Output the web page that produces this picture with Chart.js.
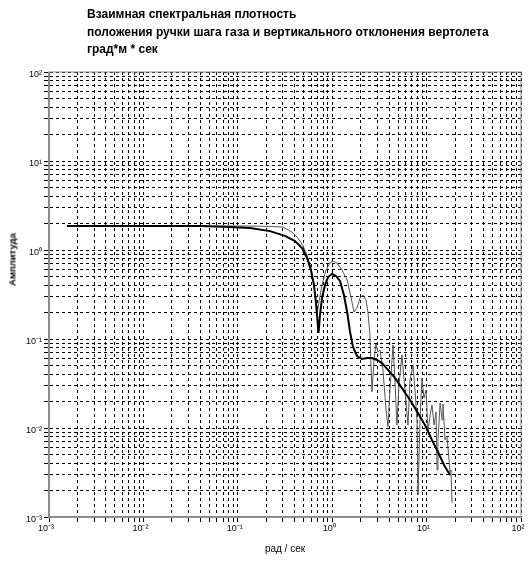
<!DOCTYPE html>
<html lang="ru">
<head>
<meta charset="utf-8">
<title>Взаимная спектральная плотность</title>
<script src="https://cdn.jsdelivr.net/npm/chart.js@4.4.1/dist/chart.umd.min.js"></script>
<style>
    html, body { margin: 0; padding: 0; background: #fff; }
    #wrap { position: relative; width: 530px; height: 567px; overflow: hidden; }
    #spectrChart { position: absolute; left: 0; top: 0; }
    #title {
        position: absolute; left: 87px; top: 6px;
        font: bold 12px "Liberation Sans", Arial, sans-serif;
        line-height: 17.5px; color: #000; white-space: nowrap;
    }
    #yTitle {
        position: absolute; left: -38px; top: 254px; width: 100px;
        text-align: center; transform: rotate(-90deg);
        font: bold 9.5px "Liberation Sans", Arial, sans-serif; color: #000;
    }
</style>
</head>
<body>
<div id="wrap">
    <canvas id="spectrChart" width="530" height="567"></canvas>
    <div id="title">Взаимная спектральная плотность<br>положения ручки шага газа и вертикального отклонения вертолета<br>град*м * сек</div>
    <div id="yTitle">Амплитуда</div>
</div>
<script>
/* ---------- данные ---------- */

// сглаженная оценка (жирная линия)
const freqThick = [0.00155, 0.0118, 0.0398, 0.0826, 0.135, 0.219, 0.316, 0.404, 0.479, 0.541,
    0.595, 0.641, 0.673, 0.698, 0.716, 0.743, 0.780, 0.839, 0.904, 0.995,
    1.096, 1.21, 1.33, 1.44, 1.545, 1.66, 1.83, 2.07, 2.34, 2.64,
    2.98, 3.37, 3.90, 4.62, 5.48, 6.67, 8.11, 9.61, 11.4, 13.2,
    15.3, 17.7];
const ampThick = [1.86, 1.86, 1.86, 1.81, 1.77, 1.63, 1.44, 1.26, 1.05, 0.813,
    0.596, 0.404, 0.254, 0.163, 0.117, 0.186, 0.289, 0.404, 0.497, 0.537,
    0.511, 0.449, 0.312, 0.201, 0.120, 0.0813, 0.0644, 0.0596, 0.0612, 0.0612,
    0.0581, 0.0537, 0.0449, 0.0365, 0.0281, 0.0206, 0.0147, 0.0108, 0.00733, 0.00537,
    0.00384, 0.00296];

// исходная оценка (тонкая линия)
const freqThin = [0.00155, 0.0118, 0.0647, 0.135, 0.219, 0.301, 0.375, 0.435, 0.491, 0.541,
    0.595, 0.641, 0.673, 0.698, 0.724, 0.780, 0.859, 0.948, 1.019, 1.124,
    1.27, 1.44, 1.58, 1.70, 1.83, 1.97, 2.12, 2.28, 2.39, 2.51,
    2.64, 2.77, 2.91, 3.05, 3.21, 3.45, 3.72, 3.90, 4.09, 4.41,
    4.62, 4.85, 5.10, 5.48, 5.90, 6.35, 6.67, 7.18, 7.53, 7.91,
    8.11, 8.51, 8.93, 9.38, 9.86, 10.35, 10.9, 11.4, 12.0, 12.6,
    12.9, 13.2, 13.9, 14.6, 14.9, 15.7, 16.4, 17.3, 17.7, 18.1,
    18.6];
const ampThin = [1.86, 1.86, 1.86, 1.86, 1.84, 1.81, 1.59, 1.36, 1.11, 0.879,
    0.628, 0.404, 0.274, 0.201, 0.261, 0.404, 0.596, 0.714, 0.752, 0.714,
    0.596, 0.460, 0.296, 0.201, 0.223, 0.289, 0.312, 0.274, 0.201, 0.111,
    0.0254, 0.0581, 0.0879, 0.0714, 0.0752, 0.0449, 0.0159, 0.0103, 0.0267, 0.0857,
    0.0346, 0.0108, 0.0304, 0.0661, 0.0267, 0.0108, 0.0346, 0.0510, 0.0267, 0.0123,
    0.00177, 0.0123, 0.0365, 0.0217, 0.0267, 0.00902, 0.0140, 0.0181, 0.0108, 0.0151,
    0.00337, 0.00733, 0.0191, 0.0123, 0.0186, 0.00733, 0.00813, 0.00437, 0.00320, 0.00337,
    0.00144];

// декады осей и их подписи
const xDecades = [0.001, 0.01, 0.1, 1, 10, 100];
const xTickLabels = ["10⁻³", "10⁻²", "10⁻¹", "10⁰", "10¹", "10²"];
const yDecades = [0.001, 0.01, 0.1, 1, 10, 100];
const yTickLabels = ["10⁻³", "10⁻²", "10⁻¹", "10⁰", "10¹", "10²"];

const xTitle = "рад / сек";

/* ---------- вспомогательное ---------- */

const toPoints = (xs, ys) => xs.map((x, i) => ({ x, y: ys[i] }));

// метки 1..9 внутри каждой декады
function logTicks(decades) {
    const out = [];
    for (let i = 0; i < decades.length - 1; i++) {
        for (let m = 1; m <= 9; m++) out.push({ value: m * decades[i] });
    }
    out.push({ value: decades[decades.length - 1] });
    return out;
}

function decadeLabel(value, decades, labels) {
    const k = decades.findIndex(d => Math.abs(d - value) < d * 1e-6);
    return k >= 0 ? labels[k] : "";
}

const tickFont = { family: "'Liberation Sans', Arial, sans-serif", size: 9 };
const gridDash = [3, 3];

// рамка поля графика (серые оси)
const framePlugin = {
    id: "frame",
    beforeDatasetsDraw(chart) {
        const { ctx, chartArea: a } = chart;
        ctx.save();
        ctx.setLineDash([]);
        ctx.strokeStyle = "#8c8c8c";
        ctx.lineWidth = 1;
        ctx.strokeRect(a.left, a.top, a.right - a.left, a.bottom - a.top);
        ctx.lineWidth = 2;
        ctx.beginPath();
        ctx.moveTo(a.left, a.top);
        ctx.lineTo(a.left, a.bottom);
        ctx.lineTo(a.right, a.bottom);
        ctx.stroke();
        ctx.restore();
    }
};

const gridOpts = {
    color: "#000",
    lineWidth: 1,
    tickLength: 5,
    tickColor: "#000",
    borderDash: gridDash,
    tickBorderDash: [5, 0]
};
const borderOpts = { display: true, color: "rgba(0,0,0,0)", width: 1, dash: gridDash };

/* ---------- график ---------- */

new Chart(document.getElementById("spectrChart"), {
    type: "line",
    data: {
        datasets: [
            {
                data: toPoints(freqThick, ampThick),
                borderColor: "#000",
                borderWidth: 2,
                pointRadius: 0,
                tension: 0,
                fill: false
            },
            {
                data: toPoints(freqThin, ampThin),
                borderColor: "#555",
                borderWidth: 1,
                pointRadius: 0,
                tension: 0,
                fill: false
            }
        ]
    },
    options: {
        responsive: false,
        devicePixelRatio: 1,
        animation: false,
        layout: { padding: { top: 72, right: 9, bottom: 0, left: 0 } },
        plugins: {
            legend: { display: false },
            tooltip: { enabled: false }
        },
        scales: {
            x: {
                type: "logarithmic",
                min: 0.001,
                max: 100,
                afterBuildTicks: s => { s.ticks = logTicks(xDecades); },
                afterFit: s => { s.height = 50; },
                grid: gridOpts,
                border: borderOpts,
                ticks: {
                    autoSkip: false,
                    maxRotation: 0,
                    padding: 1,
                    labelOffset: -3,
                    color: "#000",
                    font: tickFont,
                    callback: v => decadeLabel(v, xDecades, xTickLabels)
                },
                title: {
                    display: true,
                    text: xTitle,
                    color: "#000",
                    font: { family: "'Liberation Sans', Arial, sans-serif", size: 10 },
                    padding: { top: 0, bottom: 12 }
                }
            },
            y: {
                type: "logarithmic",
                min: 0.001,
                max: 100,
                afterBuildTicks: s => { s.ticks = logTicks(yDecades); },
                afterFit: s => { s.width = 49; },
                grid: gridOpts,
                border: borderOpts,
                ticks: {
                    autoSkip: false,
                    padding: 2,
                    labelOffset: 3,
                    color: "#000",
                    font: tickFont,
                    callback: v => decadeLabel(v, yDecades, yTickLabels)
                }
            }
        }
    },
    plugins: [framePlugin]
});
</script>
</body>
</html>
